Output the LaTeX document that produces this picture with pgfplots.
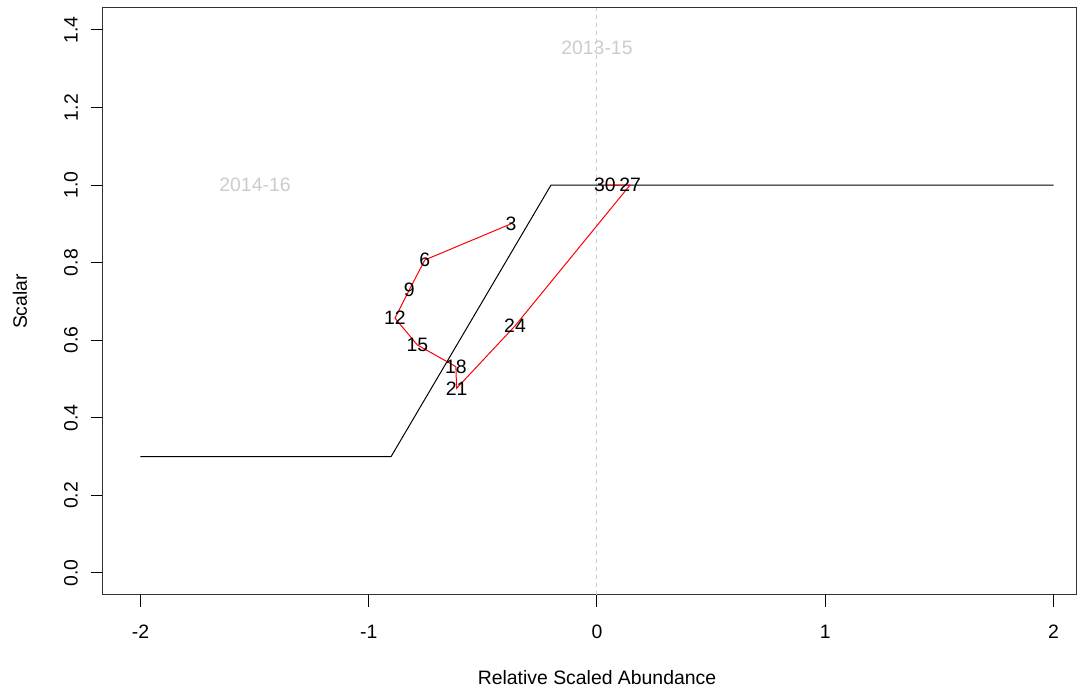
\documentclass[border=0pt]{standalone}
\usepackage{pgfplots}
\pgfplotsset{compat=1.18}
\usepackage{pgfplotstable}
\usepackage{fontspec}
\setmainfont{Liberation Sans}
\definecolor{lgray}{RGB}{204,204,204}
\pgfplotstableread{
x y lab
-0.377 0.900 3
-0.754 0.807 6
-0.822 0.730 9
-0.885 0.657 12
-0.787 0.588 15
-0.618 0.532 18
-0.615 0.476 21
-0.359 0.637 24
0.145 1.000 27
0.035 1.000 30
}\trajectory
\pgfplotstableread{
x y
-2 0.3
-0.902 0.3
-0.2015 1.0
2 1.0
}\threshold
\begin{document}
\fontsize{9.7}{11.6}\selectfont
\begin{tikzpicture}
\useasboundingbox (-51.5pt,-46.5pt) rectangle (487.5pt,297.5pt);
\begin{axis}[
  anchor=south west, at={(0,0)},
  scale only axis, width=486.5pt, height=293.5pt,
  xmin=-2.164, xmax=2.0986, ymin=-0.0567, ymax=1.4566,
  axis line style={line width=0.5pt, black!80},
  tick align=outside, xtick pos=bottom, ytick pos=left,
  major tick length=6pt,
  tick style={line width=0.5pt, black},
  xtick={-2,-1,0,1,2}, xticklabels={-2,-1,0,1,2},
  ytick={0,0.2,0.4,0.6,0.8,1.0,1.2,1.4},
  yticklabels={0.0,0.2,0.4,0.6,0.8,1.0,1.2,1.4},
  xticklabel style={anchor=center, yshift=-12.5pt},
  yticklabel style={rotate=90, anchor=center, yshift=10pt},
  xlabel={Relative Scaled Abundance},
  ylabel={Scalar},
  xlabel style={at={(axis description cs:0.5077,0)}, anchor=center, yshift=-41.5pt},
  ylabel style={at={(axis description cs:0,0.5)}, anchor=center, yshift=41.5pt},
  clip=true,
]
\addplot[lgray, dash pattern=on 2pt off 2pt, line width=0.5pt] coordinates {(0,-0.0567) (0,1.4566)};
\addplot[black, line width=0.5pt] table[x=x,y=y] {\threshold};
\addplot[red, line width=0.5pt,
  nodes near coords, point meta=explicit symbolic,
  every node near coord/.append style={text=black, anchor=center, inner sep=0pt, font=\fontsize{9.7}{11.6}\selectfont}]
  table[x=x,y=y,meta=lab] {\trajectory};
\node[text=lgray, anchor=center] at (axis cs:0,1.353) {2013-15};
\node[text=lgray, anchor=center] at (axis cs:-1.498,1.0) {2014-16};
\end{axis}
\end{tikzpicture}
\end{document}
